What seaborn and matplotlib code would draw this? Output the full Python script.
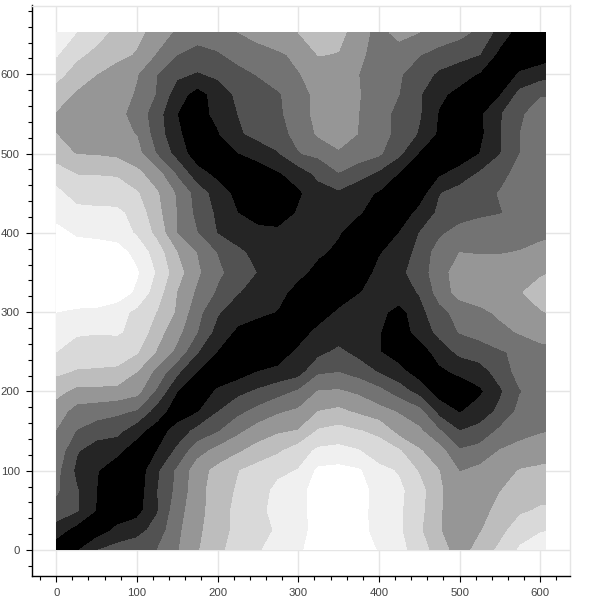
import matplotlib
matplotlib.use("Agg")
import matplotlib.pyplot as plt
from matplotlib.ticker import MultipleLocator
import numpy as np
import seaborn as sns

sns.set_style("white")
plt.rcParams['font.family'] = ['Liberation Sans', 'DejaVu Sans']

x_vals = [0, 25, 50, 75, 100, 125, 150, 175, 200, 225, 250, 275, 300,
          325, 350, 375, 400, 425, 450, 475, 500, 525, 550, 575, 600, 607]
y_vals = [0, 25, 50, 75, 100, 125, 150, 175, 200, 225, 250, 275, 300, 325,
          350, 375, 400, 425, 450, 475, 500, 525, 550, 575, 600, 625, 653]

# one row per y value; 0 = black band, 8 = white band
row_000 = [0.3, 0.85, 1.95, 2.4, 2.65, 3.0, 3.9, 4.9, 5.75, 6.4, 6.9, 7.4, 7.85,
           8.4, 8.6, 8.3, 7.95, 7.3, 6.5, 5.45, 4.5, 5.4, 6.2, 7.15, 7.6, 7.6]
row_025 = [1.5, 0.6, 0.4, 1.2, 1.6, 2.4, 3.75, 4.8, 5.5, 6.3, 6.85, 7.05, 7.6,
           8.4, 8.6, 8.3, 7.65, 7.15, 6.15, 5.05, 4.4, 4.9, 5.7, 6.5, 6.9, 6.95]
row_050 = [2.6, 2.1, 0.95, 0.4, 0.6, 1.9, 3.6, 4.6, 5.55, 6.25, 6.75, 7.3, 7.6,
           8.45, 8.6, 8.25, 7.7, 7.15, 6.3, 5.1, 4.3, 4.5, 5.4, 5.85, 6.1, 6.1]
row_075 = [3.15, 2.1, 1.0, 0.4, 0.4, 1.95, 3.25, 4.6, 5.5, 6.1, 6.5, 7.3, 7.6,
           8.5, 8.6, 8.3, 7.7, 7.2, 6.4, 5.1, 4.5, 4.6, 4.95, 5.6, 5.65, 5.7]
row_100 = [3.3, 1.8, 1.05, 0.5, 0.3, 1.8, 3.15, 4.55, 5.3, 5.95, 6.4, 6.75, 7.05,
           8.2, 8.3, 8.1, 7.3, 6.9, 5.9, 5.0, 3.95, 4.25, 4.65, 5.05, 5.15, 5.2]
row_125 = [3.7, 2.1, 1.4, 1.2, 0.5, 1.0, 2.2, 3.6, 4.3, 4.85, 5.4, 5.85, 6.5,
           7.2, 7.3, 7.05, 6.4, 6.1, 5.1, 4.4, 3.1, 3.4, 4.05, 4.35, 4.6, 4.6]
row_150 = [3.95, 2.95, 2.5, 2.3, 1.3, 0.5, 1.4, 2.3, 2.9, 3.75, 4.45, 4.85, 5.05,
           6.1, 6.35, 6.05, 5.8, 4.6, 4.2, 3.1, 2.0, 2.3, 3.2, 3.65, 3.9, 3.95]
row_175 = [4.5, 3.6, 3.4, 3.2, 2.9, 1.5, 0.4, 0.9, 1.95, 2.7, 3.3, 3.85, 4.15,
           5.0, 5.2, 4.8, 4.3, 3.9, 3.3, 1.6, 0.9, 1.5, 2.2, 3.3, 3.5, 3.55]
row_200 = [5.3, 4.7, 4.7, 4.65, 4.3, 2.8, 1.0, 0.5, 1.1, 1.7, 2.15, 2.6, 3.1,
           4.05, 4.1, 3.8, 3.3, 2.5, 1.6, 0.5, 0.35, 0.8, 1.85, 2.95, 3.4, 3.45]
row_225 = [6.2, 5.9, 5.85, 5.8, 5.0, 3.7, 2.2, 0.95, 0.5, 0.45, 1.0, 1.25, 1.55,
           2.8, 2.95, 2.55, 1.9, 1.3, 0.5, 0.8, 1.2, 1.6, 2.4, 3.4, 3.65, 3.7]
row_250 = [7.0, 6.65, 6.6, 6.5, 6.1, 4.9, 3.7, 2.05, 0.95, 0.6, 0.4, 0.35, 1.2,
           1.7, 2.2, 1.65, 1.05, 0.5, 0.5, 1.4, 2.25, 2.45, 2.9, 3.2, 3.75, 3.8]
row_275 = [7.4, 7.1, 7.05, 7.1, 6.75, 5.4, 4.3, 3.0, 1.6, 0.8, 0.5, 0.4, 0.4,
           1.3, 1.4, 1.25, 1.05, 0.55, 1.3, 2.3, 3.05, 3.4, 3.7, 4.1, 4.3, 4.3]
row_300 = [8.0, 7.75, 7.7, 7.4, 6.75, 5.95, 4.85, 3.3, 2.1, 1.45, 1.2, 0.95, 0.6,
           0.35, 1.15, 1.45, 1.3, 0.6, 1.65, 2.7, 3.35, 3.75, 4.2, 4.55, 4.95, 5.0]
row_325 = [9.0, 9.0, 8.9, 8.6, 7.8, 6.45, 4.95, 3.8, 2.85, 2.05, 1.6, 1.25, 0.7,
           0.35, 0.3, 0.95, 1.3, 1.65, 2.05, 3.4, 4.4, 4.6, 4.7, 4.95, 5.3, 5.4]
row_350 = [9.0, 8.9, 8.8, 8.6, 8.1, 6.85, 5.4, 4.15, 3.2, 2.5, 1.95, 1.5, 1.2,
           0.75, 0.4, 0.3, 1.3, 1.75, 2.45, 3.6, 4.45, 4.45, 4.5, 4.6, 4.9, 4.95]
row_375 = [8.8, 8.7, 8.6, 8.4, 7.7, 6.5, 5.0, 3.95, 2.95, 2.2, 1.7, 1.45, 1.3,
           1.1, 0.85, 0.45, 0.9, 1.5, 2.25, 3.5, 4.0, 3.95, 3.95, 4.05, 4.3, 4.35]
row_400 = [8.4, 7.8, 7.7, 7.6, 6.85, 5.7, 3.95, 3.0, 1.95, 1.5, 1.3, 1.25, 1.25,
           1.15, 1.05, 0.6, 0.4, 1.0, 2.0, 2.8, 3.4, 3.7, 3.75, 3.6, 3.75, 3.8]
row_425 = [7.5, 7.3, 7.3, 7.25, 6.6, 5.3, 3.95, 2.7, 1.8, 1.0, 0.5, 0.35, 1.1,
           1.3, 1.25, 1.05, 0.7, 0.3, 1.3, 2.2, 2.5, 2.75, 2.95, 3.3, 3.6, 3.6]
row_450 = [7.25, 6.6, 6.4, 6.4, 6.1, 5.1, 3.85, 2.55, 1.5, 0.7, 0.4, 0.4, 0.85,
           1.5, 1.8, 1.3, 0.9, 0.4, 0.4, 1.95, 2.4, 2.7, 3.05, 3.4, 3.6, 3.6]
row_475 = [6.5, 5.95, 5.95, 5.9, 5.25, 4.4, 2.8, 1.35, 0.7, 0.35, 0.35, 0.9, 1.4,
           2.3, 2.95, 2.4, 1.8, 0.95, 0.4, 0.8, 1.4, 2.1, 2.7, 3.3, 3.6, 3.6]
row_500 = [5.45, 4.95, 4.9, 4.75, 4.35, 2.9, 1.6, 0.4, 0.4, 0.95, 1.4, 1.9, 2.95,
           3.2, 3.8, 3.5, 3.15, 2.2, 0.9, 0.4, 0.3, 1.0, 1.95, 3.0, 3.4, 3.4]
row_525 = [5.0, 4.7, 4.5, 4.3, 3.95, 2.5, 1.15, 0.45, 0.9, 1.85, 2.3, 2.7, 3.25,
           4.15, 4.7, 3.95, 3.4, 2.7, 1.9, 0.8, 0.4, 0.75, 1.9, 3.0, 3.5, 3.6]
row_550 = [4.9, 4.6, 4.45, 4.3, 3.6, 2.4, 1.0, 0.6, 1.25, 2.0, 2.4, 2.85, 3.4,
           4.4, 4.6, 4.0, 3.4, 2.7, 2.1, 0.9, 0.4, 0.8, 1.9, 2.85, 3.45, 3.5]
row_575 = [5.6, 4.85, 4.6, 4.4, 3.9, 2.9, 1.45, 0.6, 1.4, 2.2, 2.55, 2.9, 3.5,
           4.35, 4.6, 4.05, 3.45, 3.0, 2.1, 1.2, 0.7, 0.4, 0.9, 2.3, 2.9, 2.9]
row_600 = [6.3, 5.6, 5.0, 4.5, 4.05, 3.0, 2.2, 1.9, 2.2, 2.7, 3.05, 3.5, 3.95,
           4.3, 4.5, 4.0, 3.5, 3.1, 2.5, 1.8, 1.4, 0.9, 0.4, 1.1, 1.5, 1.6]
row_625 = [7.1, 6.2, 5.75, 5.3, 4.9, 3.9, 3.0, 2.6, 2.9, 3.3, 3.6, 3.85, 4.2,
           5.05, 4.95, 4.2, 3.6, 3.4, 3.05, 2.65, 2.35, 2.0, 0.7, 0.4, 0.4, 0.5]
row_653 = [7.6, 7.0, 6.35, 5.75, 5.25, 4.6, 3.8, 3.5, 3.5, 4.0, 4.35, 4.7, 5.0,
           5.2, 5.3, 4.5, 3.6, 4.4, 4.0, 3.6, 3.3, 2.75, 1.6, 0.5, 0.4, 0.4]

band_levels = [0, 1, 2, 3, 4, 5, 6, 7, 8, 10]
band_colors = ['#000000', '#252525', '#525252', '#737373', '#969696',
               '#bdbdbd', '#d9d9d9', '#f0f0f0', '#ffffff']

z = np.array([row_000, row_025, row_050, row_075, row_100, row_125, row_150,
              row_175, row_200, row_225, row_250, row_275, row_300, row_325,
              row_350, row_375, row_400, row_425, row_450, row_475, row_500,
              row_525, row_550, row_575, row_600, row_625, row_653])

fig = plt.figure(figsize=(6, 6), dpi=100)
ax = fig.add_axes([32 / 600, 24 / 600, 538 / 600, 570.5 / 600])

ax.contourf(x_vals, y_vals, z, levels=band_levels, colors=band_colors, zorder=2)

ax.set_xlim(-30, 636.8)
ax.set_ylim(-32.8, 686.8)
ax.xaxis.set_major_locator(MultipleLocator(100))
ax.yaxis.set_major_locator(MultipleLocator(100))
ax.xaxis.set_minor_locator(MultipleLocator(20))
ax.yaxis.set_minor_locator(MultipleLocator(20))
ax.grid(True, which='major', color='#e5e5e5', linewidth=1, zorder=0)
ax.set_axisbelow(True)

ax.tick_params(which='major', direction='out', length=4.4, width=0.8, color='black',
               labelsize=8.2, labelcolor='#444444', pad=4.4, left=True, bottom=True)
ax.tick_params(which='minor', direction='out', length=2.9, width=0.8, color='black',
               left=True, bottom=True)

for side in ['left', 'bottom']:
    ax.spines[side].set_color('black')
    ax.spines[side].set_linewidth(1)
for side in ['top', 'right']:
    ax.spines[side].set_color('#e5e5e5')
    ax.spines[side].set_linewidth(1)

fig.savefig("out.png", dpi=100)
